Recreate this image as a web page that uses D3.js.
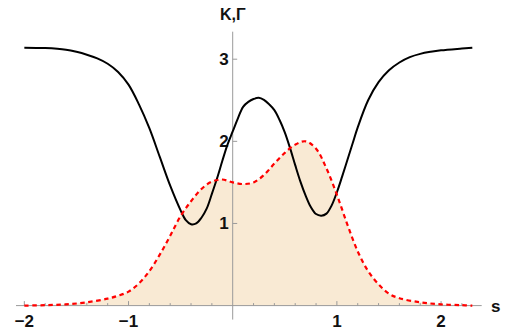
<!DOCTYPE html>
<html>
<head>
<meta charset="utf-8">
<script src="https://cdn.jsdelivr.net/npm/d3@7"></script>
<style>
  html, body { margin: 0; padding: 0; background: #fff; }
  svg { display: block; }
  text { font-family: "Liberation Sans", Arial, sans-serif; font-weight: bold; fill: #111; }
</style>
</head>
<body>
<svg id="chart" width="521" height="333"></svg>
<script>
// Arc-length parameter s
const sK = [-2.0, -1.8, -1.6, -1.5, -1.4, -1.3, -1.2, -1.1, -1.0, -0.9, -0.8, -0.7, -0.6, -0.5, -0.45, -0.4, -0.35, -0.3,
            -0.25, -0.2, -0.15, -0.1, -0.05, 0.0, 0.05, 0.1, 0.15, 0.2, 0.25, 0.3, 0.35, 0.4, 0.45, 0.5,
            0.55, 0.6, 0.65, 0.7, 0.75, 0.8, 0.85, 0.9, 0.95, 1.0, 1.05, 1.1, 1.15, 1.2, 1.3, 1.4, 1.5,
            1.6, 1.7, 1.8, 1.9, 2.0, 2.2, 2.3];
// K(s): solid black curve
const kValues = [3.14, 3.135, 3.115, 3.09, 3.055, 3.01, 2.945, 2.845, 2.69, 2.45, 2.16, 1.81, 1.46, 1.16, 1.04, 0.99, 1.0, 1.07,
                 1.18, 1.36, 1.55, 1.76, 1.96, 2.12, 2.28, 2.42, 2.48, 2.515, 2.53, 2.505, 2.45, 2.38, 2.26, 2.11,
                 1.92, 1.71, 1.51, 1.34, 1.2, 1.115, 1.095, 1.12, 1.22, 1.38, 1.57, 1.77, 1.97, 2.17, 2.5, 2.72, 2.865,
                 2.96, 3.025, 3.065, 3.09, 3.108, 3.13, 3.14];

// Γ(s): dashed red curve with filling to the axis
const sG = [-2.0, -1.8, -1.6, -1.4, -1.2, -1.1, -1.0, -0.9, -0.8, -0.7, -0.6, -0.5, -0.4, -0.3, -0.2, -0.1,
            0.0, 0.1, 0.2, 0.3, 0.4, 0.5, 0.6, 0.7, 0.8, 0.9, 1.0, 1.1, 1.2, 1.3, 1.4, 1.5, 1.6, 1.8, 2.0, 2.2, 2.3];
const gValues = [0.0, 0.005, 0.015, 0.04, 0.085, 0.12, 0.17, 0.27, 0.42, 0.62, 0.85, 1.09, 1.27, 1.42, 1.51, 1.535,
                 1.5, 1.48, 1.5, 1.59, 1.73, 1.86, 1.96, 2.0, 1.91, 1.67, 1.35, 0.99, 0.66, 0.42, 0.26, 0.145, 0.09,
                 0.04, 0.015, 0.005, 0.0];

const xTicks = [-2, -1, 1, 2];
const yTicks = [1, 2, 3];
const xLabel = "s";
const yLabel = "K,\u0393";

const svg = d3.select("#chart");

const x = d3.scaleLinear().domain([-2.08, 2.39]).range([16, 481.7]);
const y = d3.scaleLinear().domain([0, 3]).range([305.6, 59.2]);

const kData = sK.map((s, i) => [s, kValues[i]]);
const gData = sG.map((s, i) => [s, gValues[i]]);

const curve = d3.curveCatmullRom.alpha(0.5);

// Filling under Γ
svg.append("path")
  .datum(gData)
  .attr("fill", "rgb(249,234,212)")
  .attr("d", d3.area().x(d => x(d[0])).y0(y(0)).y1(d => y(d[1])).curve(curve));

// Axes through the origin
const axisColor = "#9a9a9a";
const axes = svg.append("g").attr("stroke", axisColor).attr("stroke-width", 1).attr("fill", "none");
axes.append("line")
  .attr("x1", x(-2.08)).attr("x2", x(2.39))
  .attr("y1", y(0)).attr("y2", y(0));
axes.append("line")
  .attr("x1", x(0)).attr("x2", x(0))
  .attr("y1", y(3.335)).attr("y2", y(-0.17));

// x ticks: majors at integers, minors every 0.2
const minorX = d3.range(-20, 24, 2).map(v => v / 10).filter(v => Math.abs(v - Math.round(v)) > 1e-9);
axes.selectAll(".xminor").data(minorX).enter().append("line")
  .attr("x1", d => x(d)).attr("x2", d => x(d))
  .attr("y1", y(0)).attr("y2", y(0) - 2.5);
axes.selectAll(".xmajor").data(xTicks).enter().append("line")
  .attr("x1", d => x(d)).attr("x2", d => x(d))
  .attr("y1", y(0)).attr("y2", y(0) - 4.5);
axes.selectAll(".ymajor").data(yTicks).enter().append("line")
  .attr("x1", x(0)).attr("x2", x(0) + 4.5)
  .attr("y1", d => y(d)).attr("y2", d => y(d));

// Tick labels
svg.selectAll(".xl").data(xTicks).enter().append("text")
  .attr("x", d => x(d)).attr("y", y(0) + 21)
  .attr("text-anchor", "middle").attr("font-size", 17)
  .text(d => d < 0 ? "\u2212" + Math.abs(d) : d);
svg.selectAll(".yl").data(yTicks).enter().append("text")
  .attr("x", x(0) - 4).attr("y", d => y(d) + 6)
  .attr("text-anchor", "end").attr("font-size", 17)
  .text(d => d);

// Axis labels
svg.append("text").attr("x", 491).attr("y", y(0) + 6).attr("font-size", 17).text(xLabel);
svg.append("text").attr("x", x(0)).attr("y", 20).attr("text-anchor", "middle").attr("font-size", 16).text(yLabel);

// K curve
svg.append("path")
  .datum(kData)
  .attr("fill", "none").attr("stroke", "#000").attr("stroke-width", 2)
  .attr("d", d3.line().x(d => x(d[0])).y(d => y(d[1])).curve(curve));

// Γ curve
svg.append("path")
  .datum(gData)
  .attr("fill", "none").attr("stroke", "#ff0000").attr("stroke-width", 2.2)
  .attr("stroke-dasharray", "4.5,3.5")
  .attr("d", d3.line().x(d => x(d[0])).y(d => y(d[1])).curve(curve));
</script>
</body>
</html>
